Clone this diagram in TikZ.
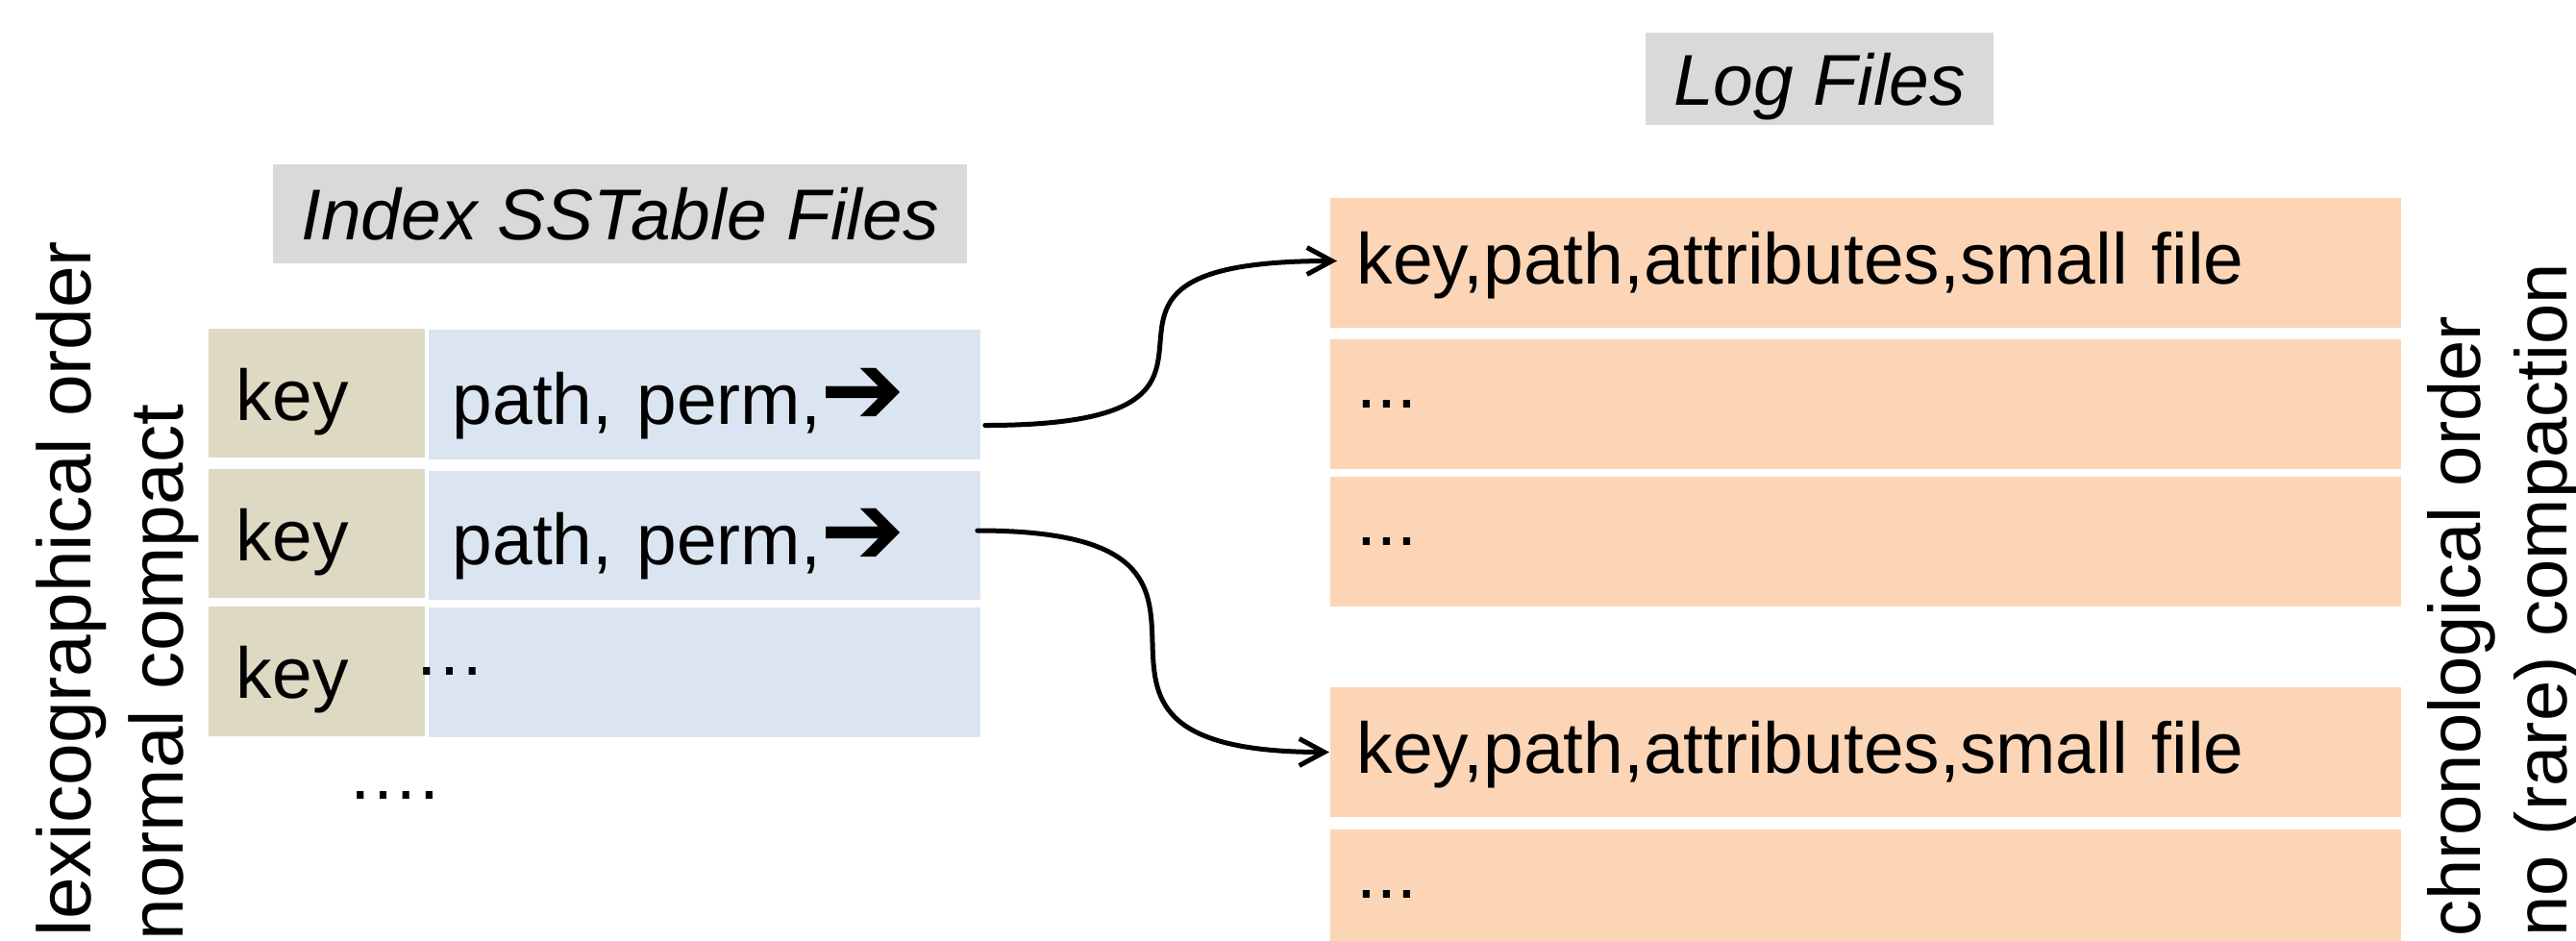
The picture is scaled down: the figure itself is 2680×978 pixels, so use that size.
\documentclass[tikz,border=0pt]{standalone}
\usepackage{fontspec}
\setmainfont{Liberation Sans}
\newfontfamily\symfont{DejaVu Sans}
\usetikzlibrary{arrows.meta}
\definecolor{keytan}{HTML}{DDD9C3}
\definecolor{pathblue}{HTML}{DBE5F1}
\definecolor{logpeach}{HTML}{FBD5B5}
\definecolor{titlegray}{HTML}{D9D9D9}
\def\cellfont{\fontsize{21.3}{25}\selectfont}
\def\ptr{{\symfont\fontsize{30}{30}\selectfont ➔}}

\begin{document}
\begin{tikzpicture}[x=0.01cm,y=-0.01cm,
    keycell/.style={fill=keytan,inner xsep=0.29cm,inner ysep=0pt,text width=1.67cm,
        minimum height=1.34cm,align=left,text height=0.56cm,text depth=0pt,font=\cellfont},
    pathcell/.style={fill=pathblue,inner xsep=0.25cm,inner ysep=0pt,text width=5.24cm,
        minimum height=1.34cm,align=left,text height=0.61cm,text depth=0pt,font=\cellfont},
    logcell/.style={fill=logpeach,inner xsep=0.28cm,inner ysep=0pt,text width=10.58cm,
        minimum height=1.34cm,align=left,font=\cellfont},
    logtext/.style={logcell,text height=0.62cm,text depth=0.18cm},
    title/.style={fill=titlegray,inner sep=0pt,text depth=0pt,font=\cellfont\itshape},
    side/.style={rotate=90,anchor=base east,inner sep=0pt,font=\fontsize{22.3}{26}\selectfont},
    sidetoo/.style={side,font=\fontsize{21.6}{26}\selectfont},
    link/.style={draw,line width=0.05cm,line cap=round,-{Straight Barb[length=0.26cm,width=0.28cm]}}]
    \useasboundingbox (0,0) rectangle (2680,978);
    \clip (0,0) rectangle (2680,978);
    % titles
    \node[title,minimum width=7.22cm,minimum height=1.03cm] (idx) at (645,222.5) {Index SSTable Files};
    \node[title,minimum width=3.62cm,minimum height=0.96cm] (logs) at (1893,82) {Log Files};
    % index rows
    \node[keycell] (k1) at (329.5,409) {key};
    \node[keycell] (k2) at (329.5,555) {key};
    \node[keycell] (k3) at (329.5,698.5) {key};
    \node[pathcell] (p1) at (733,410.5) {path, perm,\ptr};
    \node[pathcell] (p2) at (733,557) {path, perm,\ptr};
    \node[pathcell] (p3) at (733,699.5) {};
    \node[anchor=base west,inner sep=0pt,font=\cellfont] (more) at (430,702) {…};
    \node[anchor=base west,inner sep=0pt,font=\cellfont] (rest) at (361,831) {….};
    % log rows
    \node[logtext] (l1) at (1941,273.5) {key,path,attributes,small file};
    \node[logcell] (l2) at (1941,420.5) {...};
    \node[logcell] (l3) at (1941,563.5) {...};
    \node[logtext] (l4) at (1941,782.5) {key,path,attributes,small file};
    \node[logcell] (l5) at (1941,930) {...};
    % side notes
    \node[side] (lex) at (94,250) {lexicographical order};
    \node[side] (cmp) at (190,420) {normal compact};
    \node[sidetoo] (chr) at (2580,328) {chronological order};
    \node[sidetoo] (rare) at (2670,273) {no (rare) compaction};
    % pointers
    \draw[link] ([shift={(4,32)}]p1.east) to[out=0,in=180,looseness=2.2] ([shift={(8,-2)}]l1.west);
    \draw[link] ([shift={(-4,-5)}]p2.east) to[out=0,in=180,looseness=2.1] (l4.west);
\end{tikzpicture}
\end{document}
